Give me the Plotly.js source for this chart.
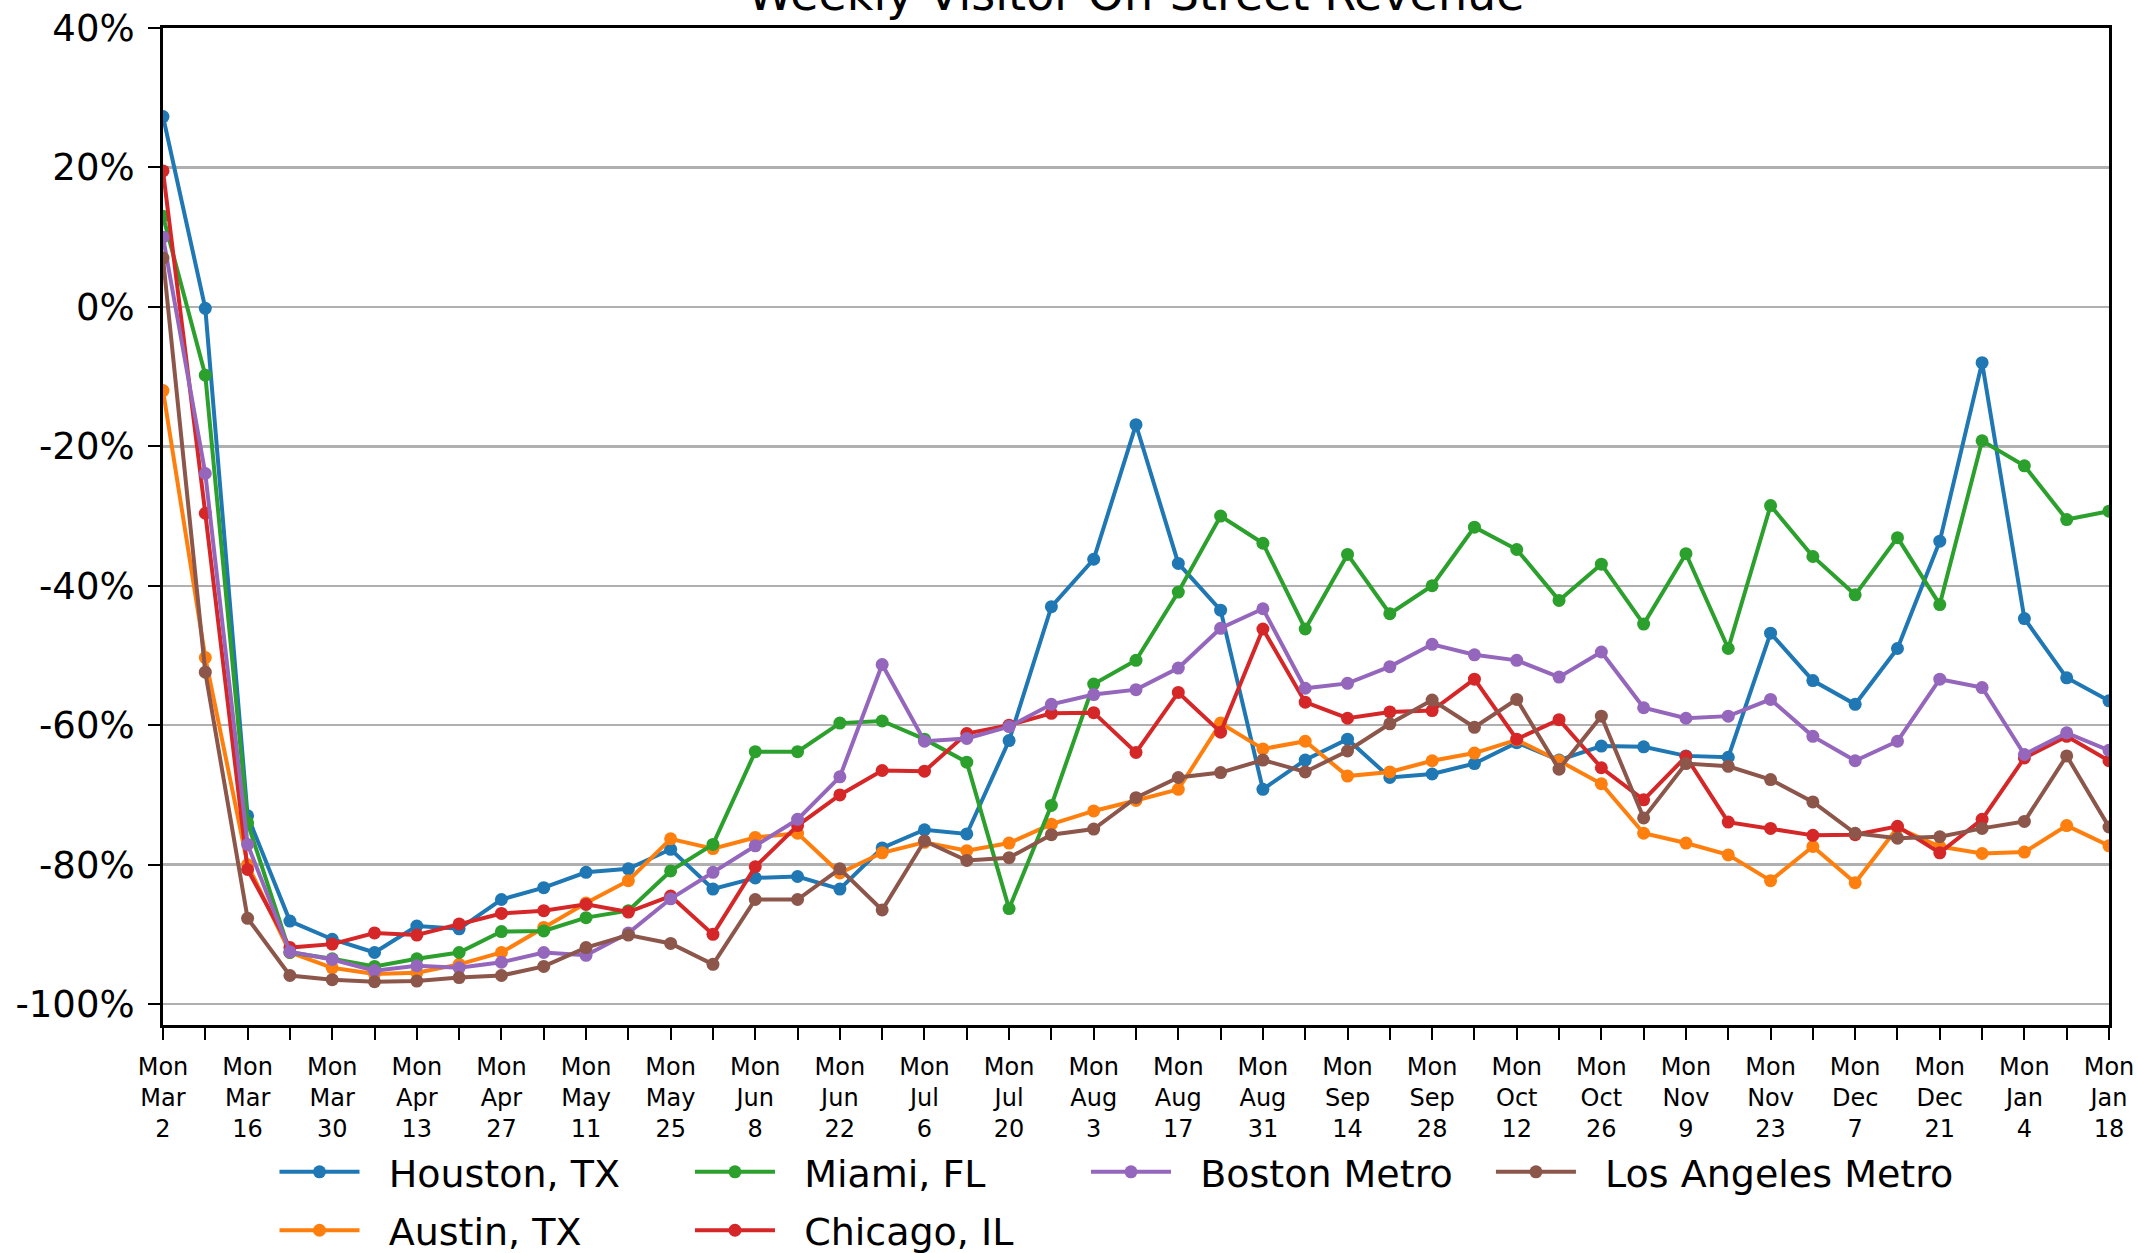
<!DOCTYPE html>
<html>
<head>
<meta charset="utf-8">
<script src="https://cdn.plot.ly/plotly-3.0.1.min.js"></script>
<style>
  html, body { margin: 0; padding: 0; background: #ffffff; }
  #chart { width: 2138px; height: 1253px; }
</style>
</head>
<body>
<div id="chart"></div>
<script>
// Week starting dates (Mondays), Mar 2 2020 .. Jan 18 2021
const weeks = [
  "Mar 2","Mar 9","Mar 16","Mar 23","Mar 30","Apr 6","Apr 13","Apr 20","Apr 27",
  "May 4","May 11","May 18","May 25","Jun 1","Jun 8","Jun 15","Jun 22","Jun 29",
  "Jul 6","Jul 13","Jul 20","Jul 27","Aug 3","Aug 10","Aug 17","Aug 24","Aug 31",
  "Sep 7","Sep 14","Sep 21","Sep 28","Oct 5","Oct 12","Oct 19","Oct 26",
  "Nov 2","Nov 9","Nov 16","Nov 23","Nov 30","Dec 7","Dec 14","Dec 21","Dec 28",
  "Jan 4","Jan 11","Jan 18"
];

// Labelled weeks (every second week)
const tickLabels = [
  "Mon<br>Mar<br>2","Mon<br>Mar<br>16","Mon<br>Mar<br>30","Mon<br>Apr<br>13",
  "Mon<br>Apr<br>27","Mon<br>May<br>11","Mon<br>May<br>25","Mon<br>Jun<br>8",
  "Mon<br>Jun<br>22","Mon<br>Jul<br>6","Mon<br>Jul<br>20","Mon<br>Aug<br>3",
  "Mon<br>Aug<br>17","Mon<br>Aug<br>31","Mon<br>Sep<br>14","Mon<br>Sep<br>28",
  "Mon<br>Oct<br>12","Mon<br>Oct<br>26","Mon<br>Nov<br>9","Mon<br>Nov<br>23",
  "Mon<br>Dec<br>7","Mon<br>Dec<br>21","Mon<br>Jan<br>4","Mon<br>Jan<br>18"
];

const yTickVals = [-100, -80, -60, -40, -20, 0, 20, 40];
const yTickText = ["-100%", "-80%", "-60%", "-40%", "-20%", "0%", "20%", "40%"];

// Percent change in weekly visitor on-street revenue
const houston = [27.3,-0.2,-73.0,-88.1,-90.7,-92.6,-88.8,-89.2,-85.0,-83.3,-81.1,-80.6,-77.8,-83.5,-81.9,-81.7,-83.5,-77.6,-75.0,-75.6,-62.2,-43.0,-36.2,-16.9,-36.8,-43.5,-69.2,-65.0,-62.0,-67.5,-67.0,-65.5,-62.5,-65.0,-63.0,-63.1,-64.4,-64.6,-46.8,-53.6,-57.0,-49.0,-33.6,-8.0,-44.7,-53.2,-56.5];
const austin = [-12.0,-50.3,-80.0,-92.6,-94.8,-95.7,-95.5,-94.3,-92.6,-89.0,-85.5,-82.3,-76.3,-77.7,-76.1,-75.5,-81.2,-78.3,-76.8,-78.0,-76.9,-74.2,-72.3,-70.8,-69.2,-59.7,-63.4,-62.3,-67.3,-66.7,-65.1,-64.0,-62.1,-65.1,-68.4,-75.5,-76.9,-78.6,-82.3,-77.4,-82.6,-74.7,-77.4,-78.4,-78.2,-74.4,-77.3];
const miami = [13.0,-9.8,-74.0,-92.6,-93.5,-94.6,-93.5,-92.6,-89.6,-89.5,-87.6,-86.6,-80.9,-77.1,-63.8,-63.8,-59.7,-59.4,-62.0,-65.3,-86.3,-71.5,-54.1,-50.7,-40.9,-30.0,-33.9,-46.2,-35.5,-44.0,-40.0,-31.6,-34.8,-42.1,-36.9,-45.5,-35.4,-49.0,-28.5,-35.8,-41.3,-33.1,-42.7,-19.2,-22.8,-30.5,-29.3];
const chicago = [19.5,-29.6,-80.7,-91.9,-91.4,-89.8,-90.1,-88.5,-87.0,-86.6,-85.7,-86.8,-84.5,-90.0,-80.3,-74.4,-70.0,-66.5,-66.6,-61.2,-60.0,-58.3,-58.2,-63.9,-55.3,-61.0,-46.2,-56.7,-59.0,-58.1,-57.9,-53.4,-62.0,-59.2,-66.1,-70.7,-64.5,-73.9,-74.8,-75.8,-75.7,-74.5,-78.3,-73.5,-64.7,-61.6,-65.1];
const boston = [10.0,-23.9,-77.1,-92.5,-93.6,-95.2,-94.5,-94.8,-94.0,-92.6,-93.0,-89.8,-84.9,-81.1,-77.3,-73.5,-67.4,-51.3,-62.3,-61.9,-60.2,-57.0,-55.6,-54.9,-51.8,-46.1,-43.3,-54.7,-54.0,-51.6,-48.4,-49.9,-50.7,-53.1,-49.5,-57.5,-59.0,-58.7,-56.3,-61.6,-65.1,-62.3,-53.4,-54.6,-64.2,-61.1,-63.6];
const losAngeles = [7.0,-52.4,-87.7,-95.9,-96.5,-96.8,-96.7,-96.2,-95.9,-94.6,-91.9,-90.1,-91.3,-94.3,-85.0,-85.0,-80.6,-86.5,-76.6,-79.4,-79.0,-75.7,-74.9,-70.4,-67.5,-66.8,-65.0,-66.7,-63.7,-59.8,-56.4,-60.3,-56.3,-66.3,-58.7,-73.3,-65.5,-65.9,-67.8,-71.0,-75.5,-76.2,-76.0,-74.8,-73.8,-64.4,-74.6];

const seriesNames = ["Houston, TX", "Austin, TX", "Miami, FL", "Chicago, IL", "Boston Metro", "Los Angeles Metro"];
const seriesValues = [houston, austin, miami, chicago, boston, losAngeles];
const seriesColors = ["#1f77b4", "#ff7f0e", "#2ca02c", "#d62728", "#9467bd", "#8c564b"];
// legend laid out in 4 columns (filled column-wise, as in the original)
const legendKeys = ["legend", "legend", "legend2", "legend2", "legend3", "legend4"];
const legendColumnX = [0.0573, 0.2708, 0.4743, 0.6824];

const traces = seriesNames.map((name, i) => ({
  type: "scatter",
  mode: "lines+markers",
  name: "&nbsp;&nbsp;" + name,
  legendgroup: name,
  x: weeks,
  y: seriesValues[i],
  line: { color: seriesColors[i], width: 4 },
  marker: { color: seriesColors[i], size: 13 },
  legend: legendKeys[i],
  cliponaxis: true
}));

const xTickText = weeks.map((w, i) => (i % 2 === 0 ? tickLabels[i / 2] : ""));

const font = "DejaVu Sans, Verdana, sans-serif";

function legendAt(x) {
  return {
    orientation: "v",
    x: x, xanchor: "left",
    y: -0.116, yanchor: "top",
    font: { family: font, size: 38, color: "#000000" },
    itemwidth: 80,
    tracegroupgap: 6,
    bgcolor: "rgba(255,255,255,0)",
    traceorder: "grouped"
  };
}

const layout = {
  width: 2138,
  height: 1253,
  margin: { l: 163, r: 29, t: 28, b: 228, autoexpand: false },
  paper_bgcolor: "#ffffff",
  plot_bgcolor: "#ffffff",
  font: { family: font, color: "#000000" },
  showlegend: true,
  title: {
    text: "Weekly Visitor On-Street Revenue",
    font: { family: font, size: 46, color: "#000000" },
    xref: "paper", x: 0.5, xanchor: "center",
    yref: "container", y: 0.992, yanchor: "bottom"
  },
  xaxis: {
    type: "category",
    range: [0, weeks.length - 1],
    tickmode: "array",
    tickvals: weeks,
    ticktext: xTickText,
    tickangle: 0,
    ticks: "outside",
    ticklen: 12,
    tickwidth: 2,
    tickcolor: "#000000",
    ticklabelstandoff: 6,
    tickfont: { family: font, size: 24, color: "#000000" },
    showgrid: false,
    zeroline: false,
    showline: true,
    linecolor: "#000000",
    linewidth: 3,
    mirror: true
  },
  yaxis: {
    range: [-103, 40],
    tickmode: "array",
    tickvals: yTickVals,
    ticktext: yTickText,
    ticks: "outside",
    ticklen: 12,
    tickwidth: 2,
    tickcolor: "#000000",
    ticklabelstandoff: 6,
    tickfont: { family: font, size: 37, color: "#000000" },
    showgrid: true,
    gridcolor: "#b0b0b0",
    gridwidth: 2.5,
    zeroline: false,
    showline: true,
    linecolor: "#000000",
    linewidth: 3,
    mirror: true
  },
  legend: legendAt(legendColumnX[0]),
  legend2: legendAt(legendColumnX[1]),
  legend3: legendAt(legendColumnX[2]),
  legend4: legendAt(legendColumnX[3])
};

Plotly.newPlot("chart", traces, layout, { displayModeBar: false, staticPlot: true });
</script>
</body>
</html>
